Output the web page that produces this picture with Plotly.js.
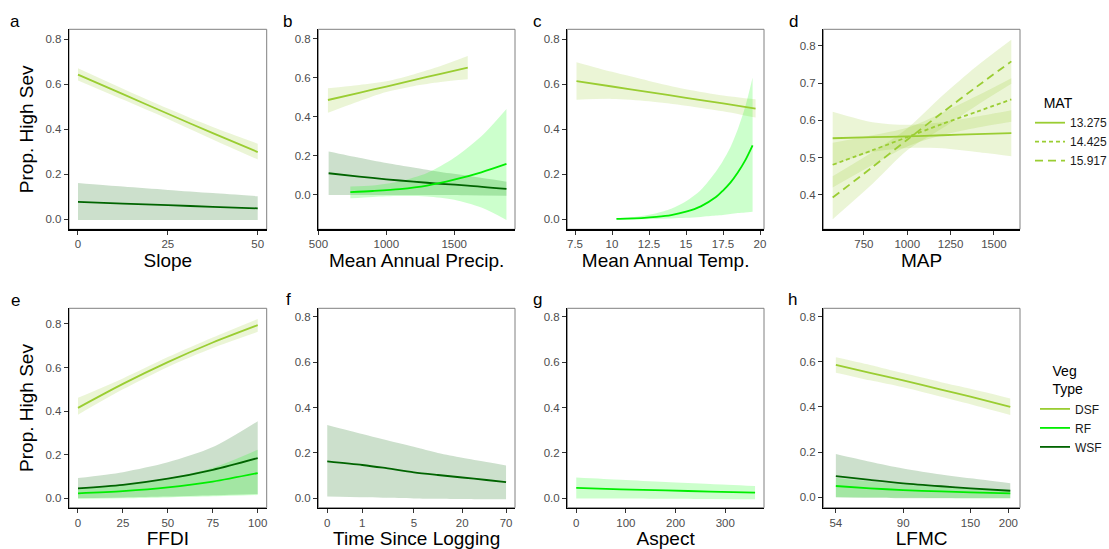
<!DOCTYPE html>
<html>
<head>
<meta charset="utf-8">
<script src="https://cdn.plot.ly/plotly-3.0.1.min.js"></script>
<style>html,body{margin:0;padding:0;background:#fff;}#chart{width:1109px;height:549px;}</style>
</head>
<body>
<div id="chart"></div>
<script>
// ---------- colours ----------
const colDSF = '#9ACD32', colRF = '#00EE00', colWSF = '#006400';
const fillDSF = 'rgba(154,205,50,0.2)', fillRF = 'rgba(0,255,0,0.2)', fillWSF = 'rgba(0,100,0,0.2)';

// ---------- panel a : Slope ----------
const slopeX = [0, 12.5, 25, 37.5, 50];
const slopeDSF = [0.643, 0.556, 0.469, 0.383, 0.299];
const slopeDSFhi = [0.671, 0.580, 0.492, 0.410, 0.336];
const slopeDSFlo = [0.617, 0.532, 0.446, 0.355, 0.266];
const slopeWSF = [0.078, 0.070, 0.063, 0.056, 0.049];
const slopeWSFhi = [0.162, 0.146, 0.131, 0.117, 0.103];
const slopeWSFlo = [-0.003, -0.003, -0.003, -0.003, -0.003];

// ---------- panel b : Mean Annual Precip. ----------
const mapDSFx = [570, 800, 1000, 1200, 1400, 1600];
const mapDSF = [0.486, 0.523, 0.555, 0.588, 0.620, 0.652];
const mapDSFhi = [0.546, 0.563, 0.582, 0.617, 0.660, 0.711];
const mapDSFlo = [0.421, 0.480, 0.527, 0.557, 0.578, 0.592];
const mapWSFx = [575, 800, 1000, 1200, 1400, 1600, 1885];
const mapWSF = [0.111, 0.094, 0.080, 0.068, 0.057, 0.048, 0.031];
const mapWSFhi = [0.222, 0.190, 0.163, 0.140, 0.117, 0.098, 0.068];
const mapWSFlo = [0.000, 0.000, 0.000, 0.000, -0.001, -0.002, -0.004];
const mapRFx = [735, 900, 1100, 1300, 1500, 1700, 1885];
const mapRF = [0.014, 0.020, 0.030, 0.048, 0.078, 0.116, 0.159];
const mapRFhi = [0.043, 0.048, 0.070, 0.112, 0.190, 0.300, 0.440];
const mapRFlo = [-0.017, -0.010, -0.006, -0.008, -0.025, -0.065, -0.128];

// ---------- panel c : Mean Annual Temp. ----------
const matDSFx = [7.6, 10, 12.5, 15, 17.5, 19.7];
const matDSF = [0.614, 0.590, 0.565, 0.540, 0.515, 0.492];
const matDSFhi = [0.698, 0.655, 0.615, 0.578, 0.550, 0.533];
const matDSFlo = [0.531, 0.535, 0.525, 0.505, 0.480, 0.452];
const matRFx = [10.3, 11, 12, 13, 14, 15, 16, 17, 17.5, 18, 18.5, 19, 19.5];
const matRF = [0.002, 0.003, 0.006, 0.011, 0.019, 0.034, 0.058, 0.098, 0.128, 0.163, 0.208, 0.262, 0.329];
const matRFhi = [0.006, 0.008, 0.015, 0.027, 0.047, 0.080, 0.130, 0.210, 0.260, 0.320, 0.400, 0.500, 0.630];
const matRFlo = [0.000, 0.000, 0.001, 0.002, 0.004, 0.007, 0.011, 0.017, 0.020, 0.024, 0.028, 0.031, 0.034];

// ---------- panel d : MAP x MAT interaction (DSF) ----------
const intX = [570, 800, 1000, 1200, 1400, 1600];
const matLevels = ['13.275', '14.425', '15.917'];
const int1 = [0.552, 0.555, 0.557, 0.560, 0.563, 0.566];
const int1hi = [0.623, 0.595, 0.588, 0.595, 0.610, 0.627];
const int1lo = [0.480, 0.515, 0.526, 0.525, 0.515, 0.504];
const int2 = [0.481, 0.520, 0.555, 0.590, 0.623, 0.656];
const int2hi = [0.540, 0.560, 0.580, 0.620, 0.665, 0.713];
const int2lo = [0.420, 0.480, 0.530, 0.560, 0.580, 0.596];
const int3 = [0.393, 0.475, 0.548, 0.620, 0.690, 0.758];
const int3hi = [0.450, 0.515, 0.578, 0.665, 0.745, 0.816];
const int3lo = [0.335, 0.430, 0.520, 0.578, 0.640, 0.698];

// ---------- panel e : FFDI ----------
const ffdiX = [0, 25, 50, 75, 100];
const ffdiDSF = [0.415, 0.525, 0.625, 0.715, 0.795];
const ffdiDSFhi = [0.461, 0.550, 0.648, 0.738, 0.823];
const ffdiDSFlo = [0.384, 0.500, 0.603, 0.690, 0.764];
const ffdiWSF = [0.046, 0.062, 0.090, 0.131, 0.185];
const ffdiWSFhi = [0.093, 0.120, 0.165, 0.235, 0.354];
const ffdiWSFlo = [0.001, 0.004, 0.008, 0.014, 0.020];
const ffdiRF = [0.023, 0.033, 0.050, 0.077, 0.116];
const ffdiRFhi = [0.048, 0.062, 0.092, 0.140, 0.223];
const ffdiRFlo = [-0.003, 0.000, 0.004, 0.009, 0.015];

// ---------- panel f : Time Since Logging ----------
const tslX = [0, 1, 2, 5, 10, 20, 40, 70];
const tslWSF = [0.163, 0.147, 0.135, 0.115, 0.103, 0.092, 0.081, 0.072];
const tslWSFhi = [0.323, 0.283, 0.260, 0.227, 0.200, 0.179, 0.160, 0.145];
const tslWSFlo = [0.008, 0.005, 0.003, 0.000, -0.002, -0.003, -0.004, -0.004];
const tslTicks = [0, 1, 5, 20, 70];

// ---------- panel g : Aspect ----------
const aspX = [0, 90, 180, 270, 360];
const aspRF = [0.046, 0.040, 0.035, 0.030, 0.025];
const aspRFhi = [0.092, 0.082, 0.072, 0.063, 0.054];
const aspRFlo = [0.000, -0.001, -0.002, -0.003, -0.004];

// ---------- panel h : LFMC ----------
const lfmcX = [54, 70, 90, 120, 150, 203];
const lfmcDSF = [0.586, 0.551, 0.518, 0.477, 0.446, 0.401];
const lfmcDSFhi = [0.620, 0.586, 0.550, 0.510, 0.481, 0.438];
const lfmcDSFlo = [0.552, 0.518, 0.487, 0.445, 0.412, 0.364];
const lfmcWSF = [0.094, 0.077, 0.062, 0.049, 0.040, 0.029];
const lfmcWSFhi = [0.192, 0.158, 0.128, 0.101, 0.084, 0.062];
const lfmcWSFlo = [0.000, -0.002, -0.004, -0.004, -0.004, -0.004];
const lfmcRF = [0.050, 0.040, 0.032, 0.026, 0.022, 0.017];
const lfmcRFhi = [0.085, 0.070, 0.057, 0.046, 0.039, 0.032];
const lfmcRFlo = [0.000, -0.001, -0.002, -0.003, -0.004, -0.004];
const lfmcTicks = [54, 90, 150, 200];

// ---------- helpers ----------
const tsl = v => Math.asinh(v / 0.85);

// a ribbon = a lower boundary trace + an upper trace filled down to it
function ribbon(xs, lo, hi, fill, n) {
  const base = {type: 'scatter', mode: 'lines', hoverinfo: 'skip', showlegend: false,
                xaxis: 'x' + n, yaxis: 'y' + n};
  return [
    Object.assign({x: xs, y: lo, fill: 'none',
                   line: {width: 0, color: 'rgba(0,0,0,0)', shape: 'spline', smoothing: 0.8}}, base),
    Object.assign({x: xs, y: hi, fill: 'tonexty', fillcolor: fill,
                   line: {width: 0, color: 'rgba(0,0,0,0)', shape: 'spline', smoothing: 0.8}}, base)
  ];
}
function curve(xs, ys, color, n, extra, dash) {
  return Object.assign({
    x: xs, y: ys, type: 'scatter', mode: 'lines',
    line: {color: color, width: 1.8, shape: 'spline', smoothing: 0.8, dash: dash || 'solid'},
    showlegend: false, xaxis: 'x' + n, yaxis: 'y' + n
  }, extra || {});
}

const tslXt = tslX.map(tsl);
const traces = [].concat(
  // a
  ribbon(slopeX, slopeDSFlo, slopeDSFhi, fillDSF, 1),
  ribbon(slopeX, slopeWSFlo, slopeWSFhi, fillWSF, 1),
  [curve(slopeX, slopeDSF, colDSF, 1), curve(slopeX, slopeWSF, colWSF, 1)],
  // b
  ribbon(mapDSFx, mapDSFlo, mapDSFhi, fillDSF, 2),
  ribbon(mapWSFx, mapWSFlo, mapWSFhi, fillWSF, 2),
  ribbon(mapRFx, mapRFlo, mapRFhi, fillRF, 2),
  [curve(mapDSFx, mapDSF, colDSF, 2), curve(mapWSFx, mapWSF, colWSF, 2), curve(mapRFx, mapRF, colRF, 2)],
  // c
  ribbon(matDSFx, matDSFlo, matDSFhi, fillDSF, 3),
  ribbon(matRFx, matRFlo, matRFhi, fillRF, 3),
  [curve(matDSFx, matDSF, colDSF, 3), curve(matRFx, matRF, colRF, 3)],
  // d
  ribbon(intX, int1lo, int1hi, fillDSF, 4),
  ribbon(intX, int2lo, int2hi, fillDSF, 4),
  ribbon(intX, int3lo, int3hi, fillDSF, 4),
  [curve(intX, int1, colDSF, 4, {name: matLevels[0], showlegend: true, legend: 'legend', legendrank: 1}),
   curve(intX, int2, colDSF, 4, {name: matLevels[1], showlegend: true, legend: 'legend', legendrank: 2}, '4px,3px'),
   curve(intX, int3, colDSF, 4, {name: matLevels[2], showlegend: true, legend: 'legend', legendrank: 3}, '8px,5px')],
  // e
  ribbon(ffdiX, ffdiDSFlo, ffdiDSFhi, fillDSF, 5),
  ribbon(ffdiX, ffdiWSFlo, ffdiWSFhi, fillWSF, 5),
  ribbon(ffdiX, ffdiRFlo, ffdiRFhi, fillRF, 5),
  [curve(ffdiX, ffdiDSF, colDSF, 5, {name: 'DSF', showlegend: true, legend: 'legend2', legendrank: 1}),
   curve(ffdiX, ffdiRF, colRF, 5, {name: 'RF', showlegend: true, legend: 'legend2', legendrank: 2}),
   curve(ffdiX, ffdiWSF, colWSF, 5, {name: 'WSF', showlegend: true, legend: 'legend2', legendrank: 3})],
  // f
  ribbon(tslXt, tslWSFlo, tslWSFhi, fillWSF, 6),
  [curve(tslXt, tslWSF, colWSF, 6)],
  // g
  ribbon(aspX, aspRFlo, aspRFhi, fillRF, 7),
  [curve(aspX, aspRF, colRF, 7)],
  // h
  ribbon(lfmcX, lfmcDSFlo, lfmcDSFhi, fillDSF, 8),
  ribbon(lfmcX, lfmcWSFlo, lfmcWSFhi, fillWSF, 8),
  ribbon(lfmcX, lfmcRFlo, lfmcRFhi, fillRF, 8),
  [curve(lfmcX, lfmcDSF, colDSF, 8), curve(lfmcX, lfmcWSF, colWSF, 8), curve(lfmcX, lfmcRF, colRF, 8)]
);

// ---------- layout ----------
const W = 1109, H = 549;
const colsPx = [[69, 266.7], [318.3, 515], [567.3, 764], [823.3, 1020]];
const rowsPx = [[29.3, 229.3], [308.3, 507.7]];
const fontFam = '"Liberation Sans", Arial, sans-serif';
const tickFont = {family: fontFam, size: 11.5, color: '#4D4D4D'};
const titleFont = {family: fontFam, size: 19, color: '#000000'};

const xTitles = ['Slope', 'Mean Annual Precip.', 'Mean Annual Temp.', 'MAP', 'FFDI', 'Time Since Logging', 'Aspect', 'LFMC'];
const yTitleText = 'Prop. High Sev';
const xRanges = [[-2.5, 52.5], [499, 1948], [6.98, 20.27], [516, 1650], [-5, 105],
                 [tsl(0) - 0.05 * tsl(70), tsl(70) * 1.05], [-18, 378], [1.691, 2.3395]];
const yRanges = [[-0.044, 0.844], [-0.176, 0.848], [-0.044, 0.844], [0.308, 0.844],
                 [-0.043, 0.872], [-0.041, 0.837], [-0.041, 0.837], [-0.046, 0.837]];
const xTickVals = [[0, 25, 50], [500, 1000, 1500], [7.5, 10, 12.5, 15, 17.5, 20], [750, 1000, 1250, 1500],
                   [0, 25, 50, 75, 100], tslTicks.map(tsl), [0, 100, 200, 300], lfmcTicks];
const xTickText = [['0', '25', '50'], ['500', '1000', '1500'], ['7.5', '10', '12.5', '15', '17.5', '20'],
                   ['750', '1000', '1250', '1500'], ['0', '25', '50', '75', '100'], tslTicks.map(String),
                   ['0', '100', '200', '300'], lfmcTicks.map(String)];
const yTickVals = [0, 0.2, 0.4, 0.6, 0.8];
const yTickText = ['0.0', '0.2', '0.4', '0.6', '0.8'];
const dTickVals = [0.4, 0.5, 0.6, 0.7, 0.8];
const dTickText = ['0.4', '0.5', '0.6', '0.7', '0.8'];
const letters = ['a', 'b', 'c', 'd', 'e', 'f', 'g', 'h'];
const letterPos = [[15, 22], [287, 22], [537, 22], [793, 22], [15, 300], [288, 299], [537, 299], [792, 299]];
const pad = '\u00A0\u00A0\u00A0';

const layout = {
  width: W, height: H,
  margin: {l: 0, r: 0, t: 0, b: 0, pad: 0, autoexpand: false},
  paper_bgcolor: '#FFFFFF', plot_bgcolor: '#FFFFFF',
  font: {family: fontFam, color: '#000000'},
  showlegend: true,
  legend: {
    x: 1030 / W, y: 1 - 90 / H, xanchor: 'left', yanchor: 'top',
    title: {text: pad + 'MAT', font: {family: fontFam, size: 14, color: '#000000'}},
    font: {family: fontFam, size: 12, color: '#1A1A1A'},
    itemwidth: 30, tracegroupgap: 0, bgcolor: 'rgba(0,0,0,0)', traceorder: 'normal'
  },
  legend2: {
    x: 1035 / W, y: 1 - 358 / H, xanchor: 'left', yanchor: 'top',
    title: {text: pad + '\u00A0Veg<br>' + pad + '\u00A0Type', font: {family: fontFam, size: 14, color: '#000000'}},
    font: {family: fontFam, size: 12, color: '#1A1A1A'},
    itemwidth: 30, tracegroupgap: 0, bgcolor: 'rgba(0,0,0,0)', traceorder: 'normal'
  },
  shapes: [],
  annotations: []
};

for (let i = 0; i < 8; i++) {
  const n = i + 1;
  const c = colsPx[i % 4], r = rowsPx[Math.floor(i / 4)];
  const xa = {
    domain: [c[0] / W, c[1] / W], anchor: 'y' + n, range: xRanges[i],
    type: i === 7 ? 'log' : 'linear',
    tickmode: 'array', tickvals: xTickVals[i], ticktext: xTickText[i],
    ticks: 'outside', ticklen: 4, tickwidth: 1, tickcolor: '#333333', tickfont: tickFont,
    showgrid: false, zeroline: false, showline: true, linecolor: '#000000', linewidth: 1.3,
    title: {text: xTitles[i], font: titleFont, standoff: 4},
    automargin: false, fixedrange: true
  };
  const ya = {
    domain: [1 - r[1] / H, 1 - r[0] / H], anchor: 'x' + n, range: yRanges[i],
    tickmode: 'array', tickvals: i === 3 ? dTickVals : yTickVals, ticktext: i === 3 ? dTickText : yTickText,
    ticks: 'outside', ticklen: 4, tickwidth: 1, tickcolor: '#333333', tickfont: tickFont,
    showgrid: false, zeroline: false, showline: true, linecolor: '#000000', linewidth: 1.3,
    automargin: false, fixedrange: true
  };
  if (i % 4 === 0) ya.title = {text: yTitleText, font: titleFont, standoff: 6};
  layout['xaxis' + n] = xa;
  layout['yaxis' + n] = ya;
  layout.shapes.push({
    type: 'rect', xref: 'x' + n + ' domain', yref: 'y' + n + ' domain',
    x0: 0, x1: 1, y0: 0, y1: 1, layer: 'below',
    line: {color: '#808080', width: 1}, fillcolor: 'rgba(0,0,0,0)'
  });
  layout.annotations.push({
    text: letters[i], xref: 'paper', yref: 'paper',
    x: letterPos[i][0] / W, y: 1 - letterPos[i][1] / H, xanchor: 'center', yanchor: 'middle',
    showarrow: false, font: {family: fontFam, size: 17, color: '#000000'}
  });
}

Plotly.newPlot('chart', traces, layout, {displayModeBar: false, staticPlot: true});
</script>
</body>
</html>
